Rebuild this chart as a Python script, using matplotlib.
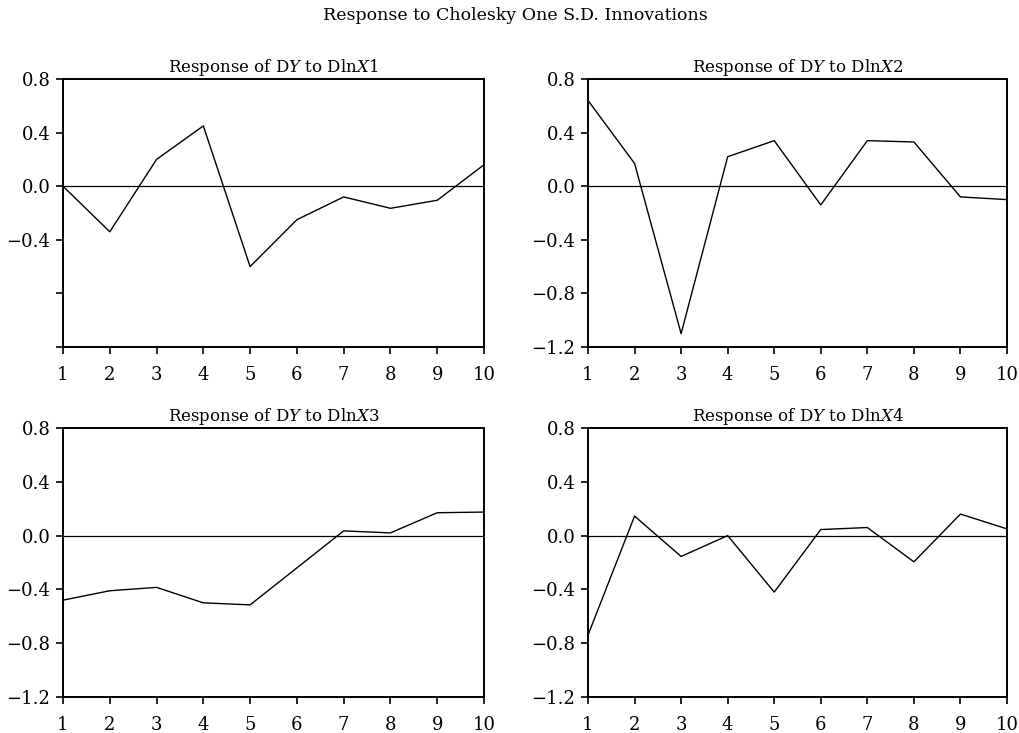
import matplotlib
matplotlib.use("Agg")
import matplotlib.pyplot as plt

# ── Data ──────────────────────────────────────────────────────────────────────
periods = [1, 2, 3, 4, 5, 6, 7, 8, 9, 10]

resp_x1 = [0.00, -0.34, 0.20, 0.45, -0.60, -0.25, -0.08, -0.165, -0.105, 0.16]
resp_x2 = [0.64, 0.17, -1.10, 0.22, 0.34, -0.14, 0.34, 0.33, -0.08, -0.10]
resp_x3 = [-0.48, -0.41, -0.385, -0.50, -0.515, -0.24, 0.035, 0.02, 0.17, 0.175]
resp_x4 = [-0.74, 0.145, -0.155, 0.00, -0.42, 0.045, 0.06, -0.195, 0.16, 0.05]

panel_titles = [
    r"Response of D$\mathit{Y}$ to Dln$\mathit{X}$1",
    r"Response of D$\mathit{Y}$ to Dln$\mathit{X}$2",
    r"Response of D$\mathit{Y}$ to Dln$\mathit{X}$3",
    r"Response of D$\mathit{Y}$ to Dln$\mathit{X}$4",
]
y_ticks = [0.8, 0.4, 0.0, -0.4, -0.8, -1.2]
main_title = "Response to Cholesky One S.D. Innovations"

# ── Style ─────────────────────────────────────────────────────────────────────
plt.rcParams["font.family"] = ["DejaVu Serif"]
plt.rcParams["mathtext.fontset"] = "dejavuserif"

fig = plt.figure(figsize=(10.2, 7.33), dpi=100)
W, H = 1020, 733

# axes boxes in pixels: (left, top, right, bottom)
boxes = [(63, 79, 484, 347), (588, 79, 1007, 347),
         (63, 428, 484, 697), (588, 428, 1007, 697)]
series = [resp_x1, resp_x2, resp_x3, resp_x4]

for i, (box, vals, title) in enumerate(zip(boxes, series, panel_titles)):
    l, t, r, b = box
    ax = fig.add_axes([l / W, 1 - b / H, (r - l) / W, (b - t) / H])
    ax.plot(periods, vals, color="black", linewidth=1.0)
    ax.axhline(0, color="black", linewidth=0.9)
    ax.set_xlim(1, 10)
    ax.set_ylim(-1.2, 0.8)
    ax.set_xticks(periods)
    ax.set_yticks(y_ticks)
    if i == 0:
        # first panel only labels the upper ticks
        ax.set_yticklabels(["0.8", "0.4", "0.0", "\u22120.4", "", ""])
    else:
        ax.set_yticklabels([f"{v:.1f}".replace("-", "\u2212") for v in y_ticks])
    ax.tick_params(direction="out", length=5, width=1.2, labelsize=13, pad=4)
    ax.tick_params(axis="x", pad=9)
    for s in ax.spines.values():
        s.set_linewidth(1.4)
    ax.set_title(title, fontsize=12, pad=5)

fig.text(515 / W, 1 - 15 / H, main_title, ha="center", va="center", fontsize=12.5)

fig.savefig("out.png", dpi=100)
